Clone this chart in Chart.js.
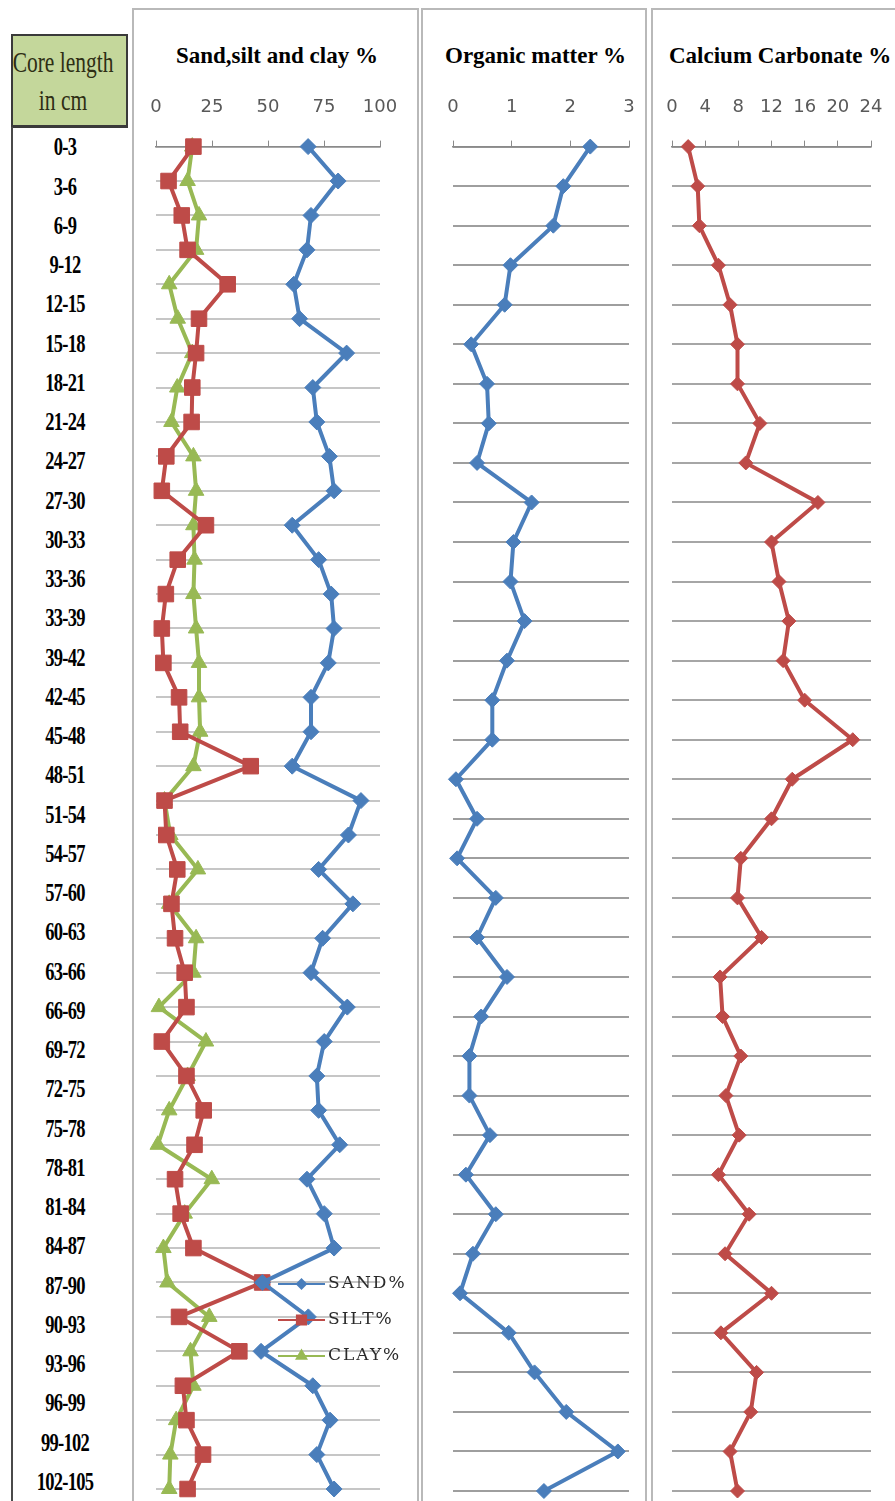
<!DOCTYPE html>
<html>
<head>
<meta charset="utf-8">
<script src="https://cdn.jsdelivr.net/npm/chart.js@4.4.1/dist/chart.umd.min.js"></script>
<style>
  html, body { margin: 0; padding: 0; }
  body { width: 895px; height: 1501px; overflow: hidden; background: #fff; position: relative; }
  .panel { position: absolute; top: 8px; height: 1510px; border: 2px solid #b9b9b9; border-bottom: none; box-sizing: border-box; }
  canvas { position: absolute; top: 10px; }
  .ttl { position: absolute; top: 44px; font: bold 23px/23px "Liberation Serif", serif; color: #000; white-space: nowrap; }
  #core { position: absolute; left: 11px; top: 34px; width: 117px; height: 94px; background: #c4d79b;
          border: 2px solid #3a3a3a; border-bottom-width: 3px; box-sizing: border-box; }
  .coreLine { position: absolute; left: 63px; font: 29px/38px "Liberation Serif", serif; color: #2e2e14;
              white-space: nowrap; transform: translateX(-50%) scaleX(0.74); }
  #rows { position: absolute; left: 11px; top: 127.4px; width: 122px; border-left: 2px solid #4a4a4a; border-bottom: 2px solid #4a4a4a; box-sizing: border-box; }
  #rows div { position: relative; height: 39.26px; width: 117px; }
  #rows div span { position: absolute; left: 52px; top: 0; transform: translateX(-50%) scaleX(0.74);
                   font: bold 25px/39.26px "Liberation Serif", serif; letter-spacing: -1px; color: #000; white-space: nowrap; }
</style>
</head>
<body>
<div id="core"></div>
<div class="coreLine" style="top:43px">Core length</div>
<div class="coreLine" style="top:81px">in cm</div>
<div id="rows"></div>

<div class="panel" style="left:132px;width:287px"></div>
<div class="panel" style="left:421px;width:226px"></div>
<div class="panel" style="left:651px;width:270px"></div>

<div class="ttl" style="left:176px">Sand,silt and clay %</div>
<div class="ttl" style="left:445px">Organic matter %</div>
<div class="ttl" style="left:669px">Calcium Carbonate %</div>

<canvas id="grain" width="296" height="1491" style="left:126px"></canvas>
<canvas id="organic" width="248" height="1491" style="left:422.7px"></canvas>
<canvas id="carbonate" width="271" height="1491" style="left:642px"></canvas>

<script>
// Core depth intervals (cm), top to bottom
const depthLabels = ['0-3','3-6','6-9','9-12','12-15','15-18','18-21','21-24','24-27','27-30',
  '30-33','33-36','33-39','39-42','42-45','45-48','48-51','51-54','54-57','57-60',
  '60-63','63-66','66-69','69-72','72-75','75-78','78-81','81-84','84-87','87-90',
  '90-93','93-96','96-99','99-102','102-105'];

// Grain size fractions (%), 40 sub-samples down the core
const sandPct = [67.9, 81.3, 69.2, 67.4, 61.5, 64.1, 85.1, 70.0, 71.8, 77.4,
  79.5, 60.8, 72.6, 78.2, 79.5, 76.9, 69.2, 69.2, 60.8, 91.5,
  85.9, 72.6, 87.9, 74.4, 69.2, 85.4, 75.1, 71.8, 72.6, 82.0,
  67.4, 75.1, 79.5, 47.5, 68.0, 46.9, 70.0, 77.7, 71.8, 79.5];
const siltPct = [16.7, 5.6, 11.5, 14.1, 32.0, 19.2, 17.9, 16.2, 15.9, 4.6,
  2.6, 22.3, 9.7, 4.4, 2.6, 3.3, 10.3, 10.8, 42.3, 3.8,
  4.6, 9.5, 6.9, 8.5, 12.8, 13.6, 2.6, 13.6, 21.3, 17.2,
  8.5, 11.0, 16.7, 47.4, 10.3, 37.2, 12.0, 13.6, 21.0, 14.1];
const clayPct = [16.2, 14.1, 19.2, 17.9, 5.9, 9.7, 16.2, 9.5, 6.9, 16.7,
  17.9, 16.7, 17.2, 16.7, 17.9, 19.2, 19.2, 19.7, 16.7, 3.8,
  6.4, 18.7, 5.9, 17.9, 16.7, 1.3, 22.3, 14.1, 5.9, 0.8,
  24.9, 12.8, 3.3, 5.1, 23.8, 15.4, 16.7, 9.0, 6.4, 5.9];
const grainSamples = sandPct.map((_, i) => 'S' + (i + 1));

// Organic matter and calcium carbonate (%), one value per depth interval
const organicPct = [2.34, 1.88, 1.71, 0.98, 0.88, 0.31, 0.58, 0.61, 0.41, 1.34,
  1.03, 0.98, 1.22, 0.92, 0.67, 0.67, 0.05, 0.41, 0.07, 0.73,
  0.41, 0.92, 0.48, 0.28, 0.28, 0.63, 0.22, 0.73, 0.34, 0.12,
  0.95, 1.39, 1.93, 2.81, 1.55];
const carbonatePct = [1.95, 3.1, 3.3, 5.6, 7.0, 7.9, 7.9, 10.6, 8.9, 17.6,
  12.0, 12.9, 14.1, 13.4, 16.0, 21.8, 14.5, 12.0, 8.3, 7.9,
  10.8, 5.8, 6.1, 8.3, 6.5, 8.1, 5.6, 9.3, 6.4, 12.0,
  5.9, 10.2, 9.5, 7.0, 7.9];

// Axis ranges
const grainAxis = { min: 0, max: 100, step: 25 };
const organicAxis = { min: 0, max: 3, step: 1 };
const carbonateAxis = { min: 0, max: 24, step: 4 };

// Depth column of the table
const rowsBox = document.getElementById('rows');
depthLabels.forEach(t => {
  const d = document.createElement('div');
  const s = document.createElement('span');
  s.textContent = t;
  d.appendChild(s);
  rowsBox.appendChild(d);
});

const BLUE = '#4a7ebb', RED = '#be4b48', GREEN = '#98b954';

// Key drawn inside the plot: short line with its marker, then the series name
const sideKey = {
  id: 'sideKey',
  afterDatasetsDraw(chart, _args, opts) {
    const { ctx, chartArea } = chart;
    ctx.save();
    ctx.font = '17px "DejaVu Serif"';
    ctx.letterSpacing = '2px';
    ctx.textBaseline = 'middle';
    chart.data.datasets.forEach((ds, i) => {
      const y = chartArea.bottom + opts.offsetY + i * opts.gap;
      const x0 = chartArea.left + opts.offsetX;
      ctx.strokeStyle = ds.borderColor;
      ctx.lineWidth = 2;
      ctx.beginPath();
      ctx.moveTo(x0, y);
      ctx.lineTo(x0 + opts.lineLen, y);
      ctx.stroke();
      ctx.fillStyle = ds.borderColor;
      Chart.helpers.drawPoint(ctx, { pointStyle: ds.pointStyle, radius: opts.markerRadius[i], rotation: 0, borderWidth: 1 },
        x0 + opts.lineLen / 2, y);
      ctx.fillStyle = '#2a2a2a';
      ctx.fillText(ds.label, x0 + opts.lineLen + 3, y);
    });
    ctx.restore();
  }
};

function series(label, data, color, style, radius) {
  return {
    label, data,
    borderColor: color, backgroundColor: color,
    pointBackgroundColor: color, pointBorderColor: color,
    pointStyle: style, pointRadius: radius, pointHoverRadius: radius, pointBorderWidth: 1,
    borderWidth: 4, tension: 0, clip: false
  };
}

function profile(id, labels, datasets, axis, gridColor, plugins, pluginOpts) {
  return new Chart(document.getElementById(id), {
    type: 'line',
    data: { labels, datasets },
    plugins: plugins || [],
    options: {
      indexAxis: 'y',
      responsive: false,
      animation: false,
      devicePixelRatio: 1,
      layout: { padding: { top: 65, left: 30, right: 42, bottom: 10 } },
      plugins: Object.assign({ legend: { display: false }, title: { display: false }, tooltip: { enabled: false } }, pluginOpts || {}),
      scales: {
        x: {
          type: 'linear', position: 'top', min: axis.min, max: axis.max,
          ticks: { stepSize: axis.step, autoSkip: false, maxRotation: 0, padding: 22,
                   color: '#595959', font: { family: 'DejaVu Sans', size: 18 } },
          grid: { drawOnChartArea: false, tickLength: 6, color: '#8a8a8a', lineWidth: 1 },
          border: { color: '#8a8a8a', width: 1.5 }
        },
        y: {
          type: 'category', labels,
          ticks: { display: false },
          grid: { drawTicks: false, color: gridColor, lineWidth: 2 },
          border: { display: false }
        }
      }
    }
  });
}

profile('grain', grainSamples, [
  series('SAND%', sandPct, BLUE, 'rectRot', 8),
  series('SILT%', siltPct, RED, 'rect', 11),
  series('CLAY%', clayPct, GREEN, 'triangle', 9)
], grainAxis, '#c6c6c6', [sideKey],
  { sideKey: { offsetX: 122, offsetY: -205, gap: 36, lineLen: 47, markerRadius: [4.5, 6.5, 5.5] } });

profile('organic', depthLabels, [
  series('Organic matter %', organicPct, BLUE, 'rectRot', 7.5)
], organicAxis, '#9e9e9e');

profile('carbonate', depthLabels, [
  series('Calcium Carbonate %', carbonatePct, RED, 'rectRot', 7)
], carbonateAxis, '#a6a6a6');
</script>
</body>
</html>
